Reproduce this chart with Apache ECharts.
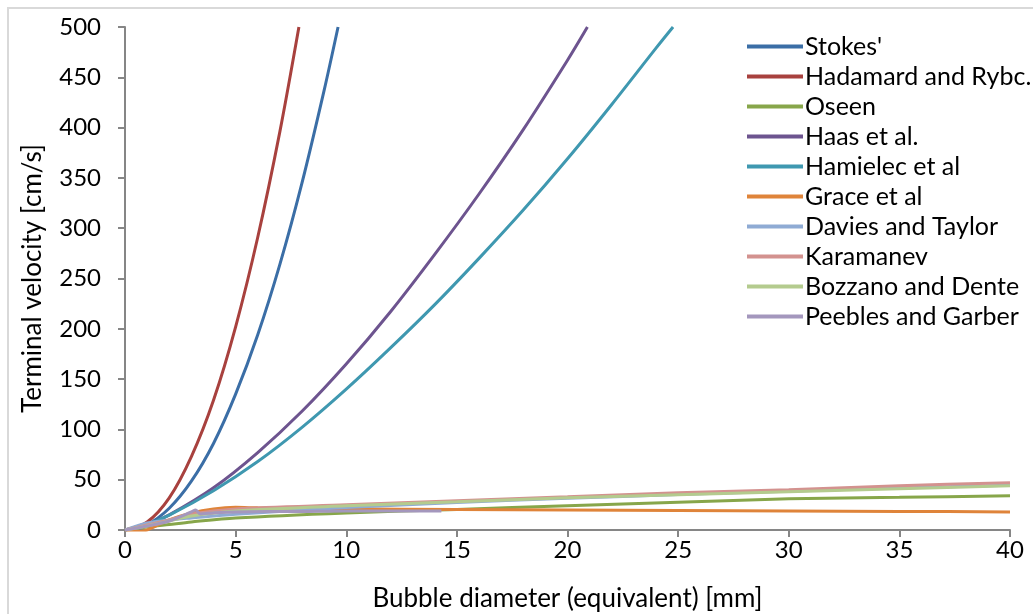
<!DOCTYPE html>
<html>
<head>
<meta charset="utf-8">
<script src="https://cdn.jsdelivr.net/npm/echarts@6/dist/echarts.min.js"></script>
<style>
  html, body { margin: 0; padding: 0; background: #fff; }
  #chart { width: 1033px; height: 614px; }
</style>
</head>
<body>
<div id="chart"></div>
<script>
// bubble diameter [mm] / terminal velocity [cm/s]
const seriesNames = ["Stokes'", 'Hadamard and Rybc.', 'Oseen', 'Haas et al.', 'Hamielec et al',
  'Grace et al', 'Davies and Taylor', 'Karamanev', 'Bozzano and Dente', 'Peebles and Garber'];
const colors = ['#3b6ea6', '#a8413e', '#87a64a', '#6d548f', '#3f98b0',
  '#df843a', '#8fabd4', '#d3928f', '#b4cb8e', '#a497bd'];

const stokesD = [0, 1, 2, 3, 4, 5, 6, 7, 8, 9, 9.63];
const stokesV = [0, 5.4, 21.6, 48.5, 86, 135, 194, 264, 345, 437, 500];
const hadamardD = [0, 1, 2, 3, 4, 5, 6, 7, 7.86];
const hadamardV = [0, 8, 32, 73, 129, 202, 291, 396, 500];
const oseenD = [0, 1, 2, 3, 5, 10, 15, 20, 25, 30, 35, 40];
const oseenV = [0, 3, 5.5, 8, 12, 17, 20.5, 24, 27.5, 31, 32.5, 34];
const haasD = [0, 1, 2, 4, 6, 8, 10, 12, 14, 16, 18, 20, 20.9];
const haasV = [0, 5, 15, 42, 77, 118, 165, 217, 274, 334, 398, 467, 500];
const hamielecD = [0, 1, 2, 4, 6, 8, 10, 12, 14, 16, 18, 20, 22, 24, 24.77];
const hamielecV = [0, 5.6, 14.7, 39, 68, 102, 140, 181, 224, 270, 318, 369, 423, 479, 500];
const graceD = [0, 0.7, 1, 2, 3, 4, 5, 6, 8, 10, 15, 20, 25, 30, 35, 40];
const graceV = [0, -1.5, 0, 10, 17, 21, 22.5, 22, 21.5, 21, 20.5, 20, 19.5, 19, 18.5, 18];
const daviesD = [0, 1, 2, 3, 5, 10, 15, 20, 25, 30, 35, 40];
const daviesV = [0, 7, 10, 12, 15.7, 22.3, 27.3, 31.5, 35.2, 38.6, 41.7, 44.6];
const karamanevD = [0, 1, 2, 3, 5, 10, 15, 20, 25, 30, 35, 40];
const karamanevV = [0, 5, 10, 16, 21, 25, 29, 33, 37, 40, 44, 47];
const bozzanoD = [0, 1, 2, 3, 5, 10, 15, 20, 25, 30, 35, 40];
const bozzanoV = [0, 4, 9, 14, 19, 24, 28, 32, 35, 38, 41, 44];
const peeblesD = [0, 1, 2, 3, 3.2, 3.4, 4, 5, 8, 10, 14.3];
const peeblesV = [0, 4, 9, 18, 20, 16, 17, 18, 18.5, 19, 19];

const allD = [stokesD, hadamardD, oseenD, haasD, hamielecD, graceD, daviesD, karamanevD, bozzanoD, peeblesD];
const allV = [stokesV, hadamardV, oseenV, haasV, hamielecV, graceV, daviesV, karamanevV, bozzanoV, peeblesV];

const font = 'Lato';
const chart = echarts.init(document.getElementById('chart'));

const series = seriesNames.map((name, i) => ({
  name: name,
  type: 'line',
  data: allD[i].map((d, k) => [d, allV[i][k]]),
  smooth: 0.3,
  showSymbol: false,
  lineStyle: { width: 3, color: colors[i] },
  itemStyle: { color: colors[i] }
}));

chart.setOption({
  animation: false,
  textStyle: { fontFamily: font },
  graphic: [{
    type: 'rect',
    shape: { x: 8, y: 8, width: 1040, height: 620 },
    style: { fill: 'none', stroke: '#d9d9d9', lineWidth: 2 }
  }],
  grid: { left: 125, right: 23, top: 27, bottom: 84, outerBoundsMode: 'none' },
  legend: {
    orient: 'vertical',
    left: 742,
    top: 29,
    icon: 'rect',
    itemWidth: 56,
    itemHeight: 4,
    itemGap: 5,
    data: seriesNames,
    textStyle: { fontFamily: font, fontSize: 25, color: '#000', lineHeight: 25, padding: [0, 0, 0, -3] }
  },
  xAxis: {
    type: 'value',
    min: 0, max: 40, interval: 5,
    name: 'Bubble diameter (equivalent) [mm]',
    nameLocation: 'middle',
    nameGap: 56,
    nameTextStyle: { fontFamily: font, fontSize: 26, color: '#000' },
    axisLine: { show: true, lineStyle: { color: '#868686', width: 2 } },
    axisTick: { show: true, length: 7, lineStyle: { color: '#868686', width: 2 } },
    axisLabel: { margin: 8, fontFamily: font, fontSize: 24, color: '#000' },
    splitLine: { show: false }
  },
  yAxis: {
    type: 'value',
    min: 0, max: 500, interval: 50,
    name: 'Terminal velocity [cm/s]',
    nameLocation: 'middle',
    nameGap: 79,
    nameTextStyle: { fontFamily: font, fontSize: 26, color: '#000' },
    axisLine: { show: true, lineStyle: { color: '#868686', width: 2 } },
    axisTick: { show: true, length: 7, lineStyle: { color: '#868686', width: 2 } },
    axisLabel: { margin: 24, fontFamily: font, fontSize: 24, color: '#000' },
    splitLine: { show: false }
  },
  series: series
});
</script>
</body>
</html>
